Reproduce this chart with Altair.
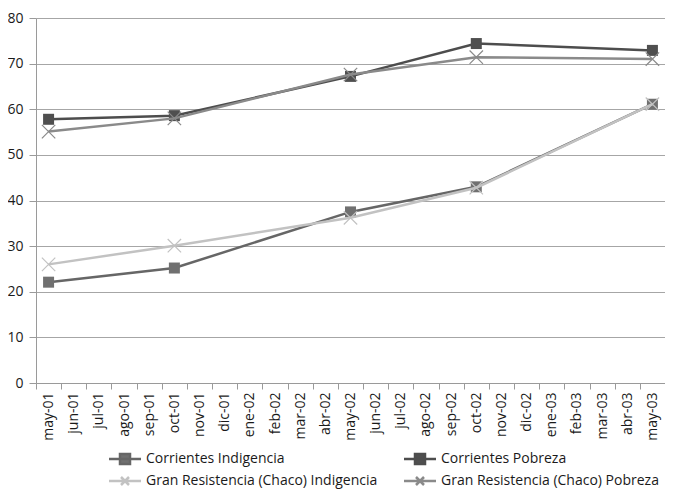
import altair as alt
import pandas as pd

months = ["may-01", "jun-01", "jul-01", "ago-01", "sep-01", "oct-01", "nov-01", "dic-01",
          "ene-02", "feb-02", "mar-02", "abr-02", "may-02", "jun-02", "jul-02", "ago-02",
          "sep-02", "oct-02", "nov-02", "dic-02", "ene-03", "feb-03", "mar-03", "abr-03", "may-03"]

obs_months = ["may-01", "oct-01", "may-02", "oct-02", "may-03"]

series_names = ["Corrientes Indigencia", "Corrientes Pobreza",
                "Gran Resistencia (Chaco) Indigencia", "Gran Resistencia (Chaco) Pobreza"]

corrientes_indigencia = [22.1, 25.2, 37.5, 43.0, 61.1]
corrientes_pobreza = [57.8, 58.6, 67.2, 74.4, 72.9]
gr_indigencia = [26.0, 30.1, 36.2, 42.8, 61.1]
gr_pobreza = [55.1, 58.0, 67.6, 71.4, 71.0]

series_values = [corrientes_indigencia, corrientes_pobreza, gr_indigencia, gr_pobreza]
line_colors = ["#666666", "#4d4d4d", "#c2c2c2", "#8a8a8a"]
marker_colors = ["#707070", "#4f4f4f", "#c2c2c2", "#8a8a8a"]
legend_fills = ["#707070", "#4f4f4f", "transparent", "transparent"]

rows = []
for s, vals in zip(series_names, series_values):
    for m, v in zip(obs_months, vals):
        rows.append({"mes": m, "valor": v, "serie": s})
df = pd.DataFrame(rows)

FONT = "Open Sans"

x_enc = alt.X("mes:O", sort=months,
              scale=alt.Scale(type="band", domain=months, paddingInner=0, paddingOuter=0),
              axis=alt.Axis(title=None, labelAngle=-90, tickBand="extent", grid=False,
                            domainColor="#9a9a9a", tickColor="#9a9a9a", tickSize=6,
                            labelFont=FONT, labelFontSize=14, labelColor="#1a1a1a",
                            labelPadding=3))
y_enc = alt.Y("valor:Q",
              scale=alt.Scale(domain=[0, 80], nice=False),
              axis=alt.Axis(title=None, values=list(range(0, 81, 10)), grid=True,
                            gridColor="#a6a6a6", gridWidth=1, domainColor="#9a9a9a",
                            tickColor="#9a9a9a", tickSize=7, labelPadding=6,
                            labelFont=FONT, labelFontSize=14, labelColor="#1a1a1a"))

sq_legend_path = "M-1,0H5.4M1.2,-1H3.2V1H1.2Z"
x_legend_path = "M-1,0H5.4M1.4,-0.8L3.0,0.8M1.4,0.8L3.0,-0.8"
legend_shapes = [sq_legend_path, sq_legend_path, x_legend_path, x_legend_path]

legend = alt.Legend(
    title=None, orient="none", legendX=71, legendY=434, columns=2, direction="horizontal",
    symbolSize=100, symbolStrokeWidth=2.5, symbolOpacity=1, labelOffset=25,
    columnPadding=21, rowPadding=3,
    labelFont=FONT, labelFontSize=14, labelColor="#1a1a1a", labelLimit=400)

layers = []
for i, s in enumerate(series_names):
    d = df[df["serie"] == s]
    base = alt.Chart(d)
    line = base.mark_line(strokeWidth=2.5, color=line_colors[i]).encode(x=x_enc, y=y_enc)
    if s.startswith("Corrientes"):
        pts = base.mark_point(shape="square", filled=True, size=121, opacity=1,
                              color=marker_colors[i]).encode(x=x_enc, y=y_enc)
    else:
        pts = base.mark_point(shape="M-1,-1L1,1M-1,1L1,-1", filled=False, size=180,
                              strokeWidth=1.2, opacity=1, color=marker_colors[i]).encode(x=x_enc, y=y_enc)
    layers.append(line)
    layers.append(pts)

# legend-only layer (no visible marks: data filtered out, domains explicit)
legend_layer = alt.Chart(df).transform_filter("datum.valor < 0").mark_point(
    size=100, strokeWidth=2.5, opacity=1
).encode(
    x=x_enc, y=y_enc,
    fill=alt.Fill("serie:N", scale=alt.Scale(domain=series_names, range=legend_fills),
                  legend=legend, sort=series_names),
    stroke=alt.Stroke("serie:N", scale=alt.Scale(domain=series_names, range=line_colors),
                      legend=legend, sort=series_names),
    shape=alt.Shape("serie:N", scale=alt.Scale(domain=series_names, range=legend_shapes),
                    legend=legend, sort=series_names),
)
layers.append(legend_layer)

chart = alt.layer(*layers).properties(
    width=629, height=365, background="white",
    autosize=alt.AutoSizeParams(type="none"),
    padding={"left": 28, "top": 10, "right": 0, "bottom": 108},
).configure_view(stroke=None)

chart.save("out.html", embed_options={"renderer": "svg", "actions": False})
